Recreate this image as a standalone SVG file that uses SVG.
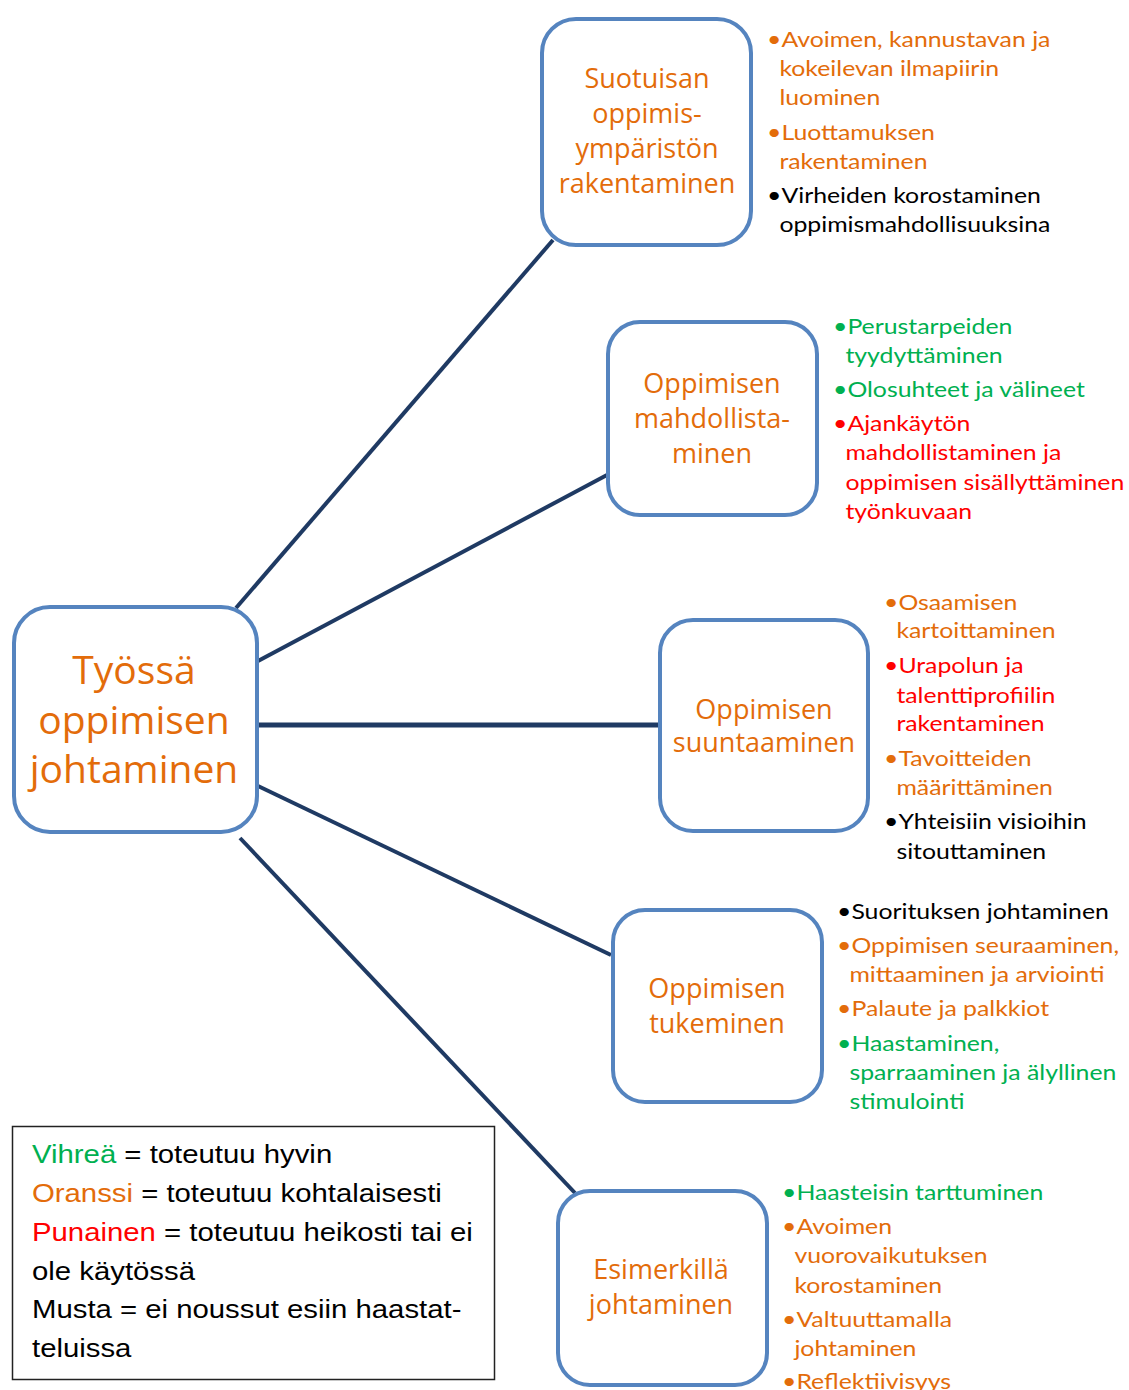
<svg xmlns="http://www.w3.org/2000/svg" width="1129" height="1390" viewBox="0 0 1129 1390">
  <style>
    .node { fill: #ffffff; stroke: #5584BF; stroke-width: 4; }
    .link { stroke: #1F3A63; stroke-width: 4; stroke-linecap: butt; fill: none; }
    .ntx { font-family: "Open Sans", Lato, sans-serif; fill: #E36C0A; text-anchor: middle; }
    .lst { font-family: Lato, "Open Sans", sans-serif; font-size: 22px; }
    .o { fill: #E36C0A; }
    .g { fill: #00B050; }
    .r { fill: #FF0000; }
    .k { fill: #000000; }
    .leg { font-family: "Liberation Sans", Arial, sans-serif; font-size: 26px; fill: #000000; }
  </style>

  <!-- spokes from the central node -->
  <g id="connectors">
    <line class="link" x1="236" y1="608" x2="553" y2="240"/>
    <line class="link" x1="258" y1="661" x2="607" y2="475"/>
    <line class="link" x1="258" y1="725" x2="659" y2="725" style="stroke-width:5"/>
    <line class="link" x1="258" y1="786" x2="611" y2="955"/>
    <line class="link" x1="240" y1="838" x2="575" y2="1193"/>
  </g>

  <g id="center">
    <rect class="node" x="14" y="607" width="243" height="225" rx="36"/>
    <text class="ntx" font-size="39" x="134" y="684">Työssä</text>
    <text class="ntx" font-size="39" x="134" y="734">oppimisen</text>
    <text class="ntx" font-size="39" x="134" y="783">johtaminen</text>
  </g>

  <g id="n1">
    <rect class="node" x="542" y="19" width="209" height="226" rx="34"/>
    <text class="ntx" font-size="27" x="647" y="88">Suotuisan</text>
    <text class="ntx" font-size="27" x="647" y="123">oppimis-</text>
    <text class="ntx" font-size="27" x="647" y="158">ympäristön</text>
    <text class="ntx" font-size="27" x="647" y="193">rakentaminen</text>
  </g>

  <g id="n2">
    <rect class="node" x="608" y="322" width="209" height="193" rx="32"/>
    <text class="ntx" font-size="27" x="712" y="393">Oppimisen</text>
    <text class="ntx" font-size="27" x="712" y="428">mahdollista-</text>
    <text class="ntx" font-size="27" x="712" y="463">minen</text>
  </g>

  <g id="n3">
    <rect class="node" x="660" y="620" width="208" height="211" rx="33"/>
    <text class="ntx" font-size="27" x="764" y="719">Oppimisen</text>
    <text class="ntx" font-size="27" x="764" y="752">suuntaaminen</text>
  </g>

  <g id="n4">
    <rect class="node" x="613" y="910" width="209" height="192" rx="32"/>
    <text class="ntx" font-size="27" x="717" y="998">Oppimisen</text>
    <text class="ntx" font-size="27" x="717" y="1033">tukeminen</text>
  </g>

  <g id="n5">
    <rect class="node" x="558" y="1191" width="209" height="194" rx="32"/>
    <text class="ntx" font-size="27" x="661" y="1279">Esimerkillä</text>
    <text class="ntx" font-size="27" x="661" y="1314">johtaminen</text>
  </g>

  <!-- bullet lists beside each node, slightly widened -->
  <g id="list1" class="lst" transform="translate(767,0) scale(1.128,1)">
    <text class="o" x="0" y="47">•Avoimen, kannustavan ja</text>
    <text class="o" x="11" y="76">kokeilevan ilmapiirin</text>
    <text class="o" x="11" y="105">luominen</text>
    <text class="o" x="0" y="140">•Luottamuksen</text>
    <text class="o" x="11" y="169">rakentaminen</text>
    <text class="k" x="0" y="203">•Virheiden korostaminen</text>
    <text class="k" x="11" y="232">oppimismahdollisuuksina</text>
  </g>

  <g id="list2" class="lst" transform="translate(833,0) scale(1.128,1)">
    <text class="g" x="0" y="334">•Perustarpeiden</text>
    <text class="g" x="11" y="363">tyydyttäminen</text>
    <text class="g" x="0" y="397">•Olosuhteet ja välineet</text>
    <text class="r" x="0" y="431">•Ajankäytön</text>
    <text class="r" x="11" y="460">mahdollistaminen ja</text>
    <text class="r" x="11" y="490">oppimisen sisällyttäminen</text>
    <text class="r" x="11" y="519">työnkuvaan</text>
  </g>

  <g id="list3" class="lst" transform="translate(884,0) scale(1.128,1)">
    <text class="o" x="0" y="610">•Osaamisen</text>
    <text class="o" x="11" y="638">kartoittaminen</text>
    <text class="r" x="0" y="673">•Urapolun ja</text>
    <text class="r" x="11" y="703">talenttiprofiilin</text>
    <text class="r" x="11" y="731">rakentaminen</text>
    <text class="o" x="0" y="766">•Tavoitteiden</text>
    <text class="o" x="11" y="795">määrittäminen</text>
    <text class="k" x="0" y="829">•Yhteisiin visioihin</text>
    <text class="k" x="11" y="859">sitouttaminen</text>
  </g>

  <g id="list4" class="lst" transform="translate(837,0) scale(1.128,1)">
    <text class="k" x="0" y="919">•Suorituksen johtaminen</text>
    <text class="o" x="0" y="953">•Oppimisen seuraaminen,</text>
    <text class="o" x="11" y="982">mittaaminen ja arviointi</text>
    <text class="o" x="0" y="1016">•Palaute ja palkkiot</text>
    <text class="g" x="0" y="1051">•Haastaminen,</text>
    <text class="g" x="11" y="1080">sparraaminen ja älyllinen</text>
    <text class="g" x="11" y="1109">stimulointi</text>
  </g>

  <g id="list5" class="lst" transform="translate(782,0) scale(1.128,1)">
    <text class="g" x="0" y="1200">•Haasteisin tarttuminen</text>
    <text class="o" x="0" y="1234">•Avoimen</text>
    <text class="o" x="11" y="1263">vuorovaikutuksen</text>
    <text class="o" x="11" y="1293">korostaminen</text>
    <text class="o" x="0" y="1327">•Valtuuttamalla</text>
    <text class="o" x="11" y="1356">johtaminen</text>
    <text class="o" x="0" y="1389">•Reflektiivisyys</text>
  </g>

  <!-- colour key -->
  <g id="legend">
    <rect x="12.5" y="1126.5" width="482" height="253" fill="#ffffff" stroke="#222222" stroke-width="1.5"/>
    <g transform="translate(32,0) scale(1.128,1)">
      <text class="leg" x="0" y="1163"><tspan class="g">Vihreä</tspan> = toteutuu hyvin</text>
      <text class="leg" x="0" y="1202"><tspan class="o">Oranssi</tspan> = toteutuu kohtalaisesti</text>
      <text class="leg" x="0" y="1241"><tspan class="r">Punainen</tspan> = toteutuu heikosti tai ei</text>
      <text class="leg" x="0" y="1280">ole käytössä</text>
      <text class="leg" x="0" y="1318">Musta = ei noussut esiin haastat-</text>
      <text class="leg" x="0" y="1357">teluissa</text>
    </g>
  </g>
</svg>
